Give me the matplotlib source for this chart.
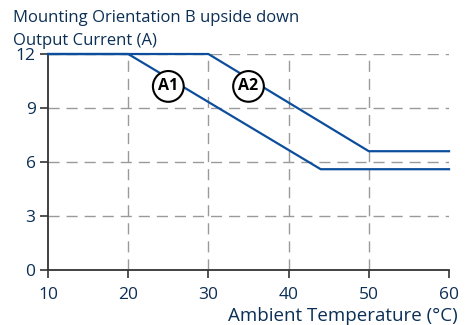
import matplotlib
matplotlib.use('Agg')
import matplotlib.pyplot as plt

# Derating curves: output current vs ambient temperature
temp_a1 = [10, 20, 44, 60]
curr_a1 = [12, 12, 5.6, 5.6]
temp_a2 = [10, 30, 50, 60]
curr_a2 = [12, 12, 6.6, 6.6]
curve_labels = ['A1', 'A2']
label_pos = [(25, 10.2), (35, 10.2)]

x_ticks = [10, 20, 30, 40, 50, 60]
y_ticks = [0, 3, 6, 9, 12]

txt_color = '#0b2f55'
line_color = '#0d4e9c'
grid_color = '#9a9a9a'

plt.rcParams['font.family'] = ['Open Sans', 'DejaVu Sans']

fig = plt.figure(figsize=(4.67, 3.25), dpi=100)
ax = fig.add_axes([0.1028, 0.1692, 0.8587, 0.6646])

ax.set_xlim(10, 60)
ax.set_ylim(0, 12)

# dashed grid
for x in x_ticks[1:-1]:
    ax.axvline(x, color=grid_color, lw=1.0, dashes=(8, 5), zorder=1)
for y in y_ticks[1:]:
    ax.axhline(y, color=grid_color, lw=1.0, dashes=(8, 5), zorder=1)

ax.plot(temp_a1, curr_a1, color=line_color, lw=1.6, zorder=3, clip_on=False)
ax.plot(temp_a2, curr_a2, color=line_color, lw=1.6, zorder=3, clip_on=False)

for lab, (lx, ly) in zip(curve_labels, label_pos):
    ax.text(lx, ly, lab, ha='center', va='center', fontsize=11.5, fontweight='bold',
            color='black', zorder=5,
            bbox=dict(boxstyle='circle,pad=0.33', facecolor='white',
                      edgecolor='black', linewidth=1.5))

for side in ['top', 'right']:
    ax.spines[side].set_visible(False)
for side in ['left', 'bottom']:
    ax.spines[side].set_color('#333333')
    ax.spines[side].set_linewidth(1.3)

ax.set_xticks(x_ticks)
ax.set_yticks(y_ticks)
ax.tick_params(axis='both', direction='out', length=6, width=1.2, color='#333333',
               labelcolor=txt_color, labelsize=12.5)
ax.tick_params(axis='x', pad=6)
ax.tick_params(axis='y', pad=3)

fig.text(0.028, 0.945, 'Mounting Orientation B upside down', color=txt_color,
         fontsize=12, ha='left', va='center')
fig.text(0.028, 0.875, 'Output Current (A)', color=txt_color,
         fontsize=12, ha='left', va='center')
fig.text(0.981, 0.028, 'Ambient Temperature (°C)', color=txt_color,
         fontsize=13.5, ha='right', va='center')

fig.savefig('out.png', dpi=100)
